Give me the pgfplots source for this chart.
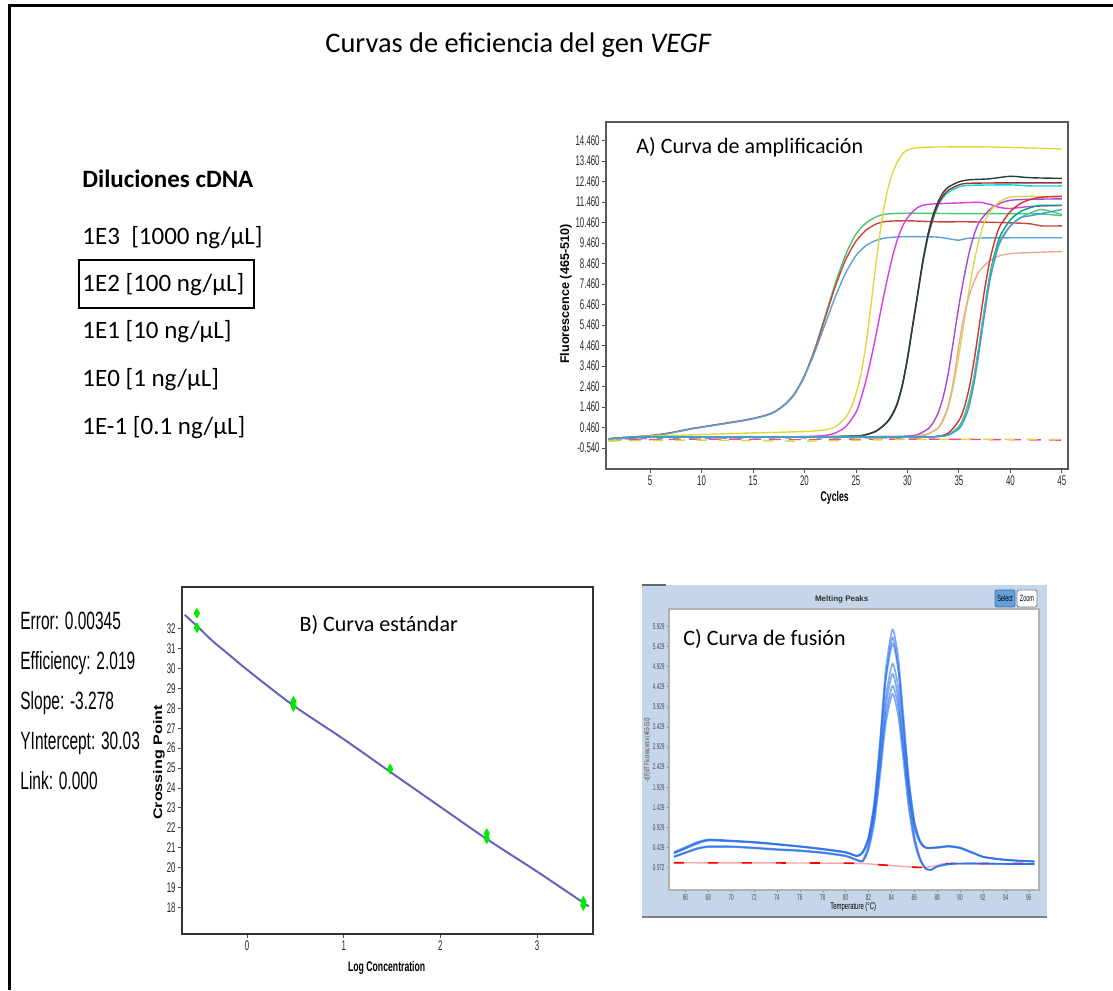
\documentclass[border=0pt]{standalone}
\usepackage{fontspec}
\setmainfont{Carlito}
\newfontfamily\arialn[FakeStretch=0.62]{Liberation Sans}
\newfontfamily\arialt[FakeStretch=0.56]{Liberation Sans}
\newfontfamily\arialw[FakeStretch=1.3]{Liberation Sans}
\newfontfamily\arial{Liberation Sans}
\usepackage{pgfplots}
\pgfplotsset{compat=1.18}
\definecolor{gA}{RGB}{70,200,110}
\definecolor{rA}{RGB}{200,70,60}
\definecolor{bA}{RGB}{90,160,220}
\definecolor{yB}{RGB}{225,215,60}
\definecolor{mB}{RGB}{220,60,220}
\definecolor{dC}{RGB}{40,60,60}
\definecolor{cC}{RGB}{0,215,225}
\definecolor{rC}{RGB}{160,50,50}
\definecolor{pD}{RGB}{170,70,210}
\definecolor{yD}{RGB}{215,215,80}
\definecolor{sD}{RGB}{240,170,140}
\definecolor{rE}{RGB}{210,50,50}
\definecolor{tE}{RGB}{0,160,130}
\definecolor{gE}{RGB}{80,200,120}
\definecolor{bE}{RGB}{70,150,225}
\definecolor{negp}{RGB}{235,80,130}
\definecolor{mgreen}{RGB}{0,235,0}
\definecolor{stdline}{RGB}{100,100,190}
\definecolor{panelblue}{RGB}{197,214,234}
\definecolor{meltblue}{RGB}{40,110,235}
\definecolor{selblue}{RGB}{100,160,220}
\begin{document}
\begin{tikzpicture}
\path[use as bounding box] (0,0) rectangle (556.5pt,495pt);
\draw[line width=1.5pt] (4.5pt,0) -- (4.5pt,492pt) -- (556.5pt,492pt);
% title
\node[anchor=base, inner sep=0] at (259.25pt,468.5pt) {\fontsize{14.2}{17}\selectfont Curvas de eficiencia del gen \textit{VEGF}};
% dilutions
\node[anchor=base west, inner sep=0] at (41pt,401pt) {\fontsize{12.5}{15}\selectfont\bfseries Diluciones cDNA};
\node[anchor=base west, inner sep=0] at (41pt,372.5pt) {\fontsize{12.5}{15}\selectfont 1E3\ \ [1000 ng/µL]};
\node[anchor=base west, inner sep=0] at (41pt,349pt) {\fontsize{12.5}{15}\selectfont 1E2 [100 ng/µL]};
\draw[line width=1pt] (39.5pt,341pt) rectangle (127pt,365pt);
\node[anchor=base west, inner sep=0] at (41pt,325.5pt) {\fontsize{12.5}{15}\selectfont 1E1 [10 ng/µL]};
\node[anchor=base west, inner sep=0] at (41pt,301.5pt) {\fontsize{12.5}{15}\selectfont 1E0 [1 ng/µL]};
\node[anchor=base west, inner sep=0] at (41pt,277.5pt) {\fontsize{12.5}{15}\selectfont 1E-1 [0.1 ng/µL]};
% stats
\node[anchor=base west, inner sep=0] at (10pt,180pt) {\arialn\fontsize{12.5}{14}\selectfont Error: 0.00345};
\node[anchor=base west, inner sep=0] at (10pt,160pt) {\arialn\fontsize{12.5}{14}\selectfont Efficiency: 2.019};
\node[anchor=base west, inner sep=0] at (10pt,140pt) {\arialn\fontsize{12.5}{14}\selectfont Slope: -3.278};
\node[anchor=base west, inner sep=0] at (10pt,120pt) {\arialn\fontsize{12.5}{14}\selectfont YIntercept: 30.03};
\node[anchor=base west, inner sep=0] at (10pt,100pt) {\arialn\fontsize{12.5}{14}\selectfont Link: 0.000};

% ---------------- Panel A
\begin{axis}[at={(303pt,260.5pt)}, anchor=south west, scale only axis,
  width=231pt, height=173.5pt,
  xmin=0.72, xmax=45.6, ymin=-1.56, ymax=15.37,
  axis line style={draw=gray!70!black, line width=1pt},
  tick align=outside, tick pos=left, major tick length=2pt,
  tick style={gray!60!black, thin},
  xtick={5,10,...,45},
  ytick={-0.54,0.46,1.46,2.46,3.46,4.46,5.46,6.46,7.46,8.46,9.46,10.46,11.46,12.46,13.46,14.46},
  yticklabels={-0.540,0.460,1.460,2.460,3.460,4.460,5.460,6.460,7.460,8.460,9.460,10.460,11.460,12.460,13.460,14.460},
  /pgf/number format/assume math mode=true,
  ticklabel style={font=\arialt\fontsize{7}{8}\selectfont, text=black!85, inner sep=1pt},
  xlabel={Cycles}, ylabel={Fluorescence (465-510)},
  xlabel style={font=\arialn\bfseries\fontsize{7}{8}\selectfont, at={(axis description cs:0.495,-0.0836)}, anchor=center},
  ylabel style={font=\arial\bfseries\fontsize{6.3}{8}\selectfont, at={(axis description cs:-0.087,0.504)}, anchor=center},
  every axis plot/.append style={line width=0.7pt, smooth, tension=0.45},
]
\addplot[negp, dashed, dash pattern=on 6pt off 4pt] coordinates {(1,-0.15)(10,-0.1)(20,-0.12)(30,-0.1)(45,-0.15)};
\addplot[yB, dashed, dash pattern=on 5pt off 6pt] coordinates {(1,-0.2)(10,-0.15)(20,-0.2)(30,-0.12)(45,-0.12)};
\addplot[bA, dashed, dash pattern=on 3pt off 5pt] coordinates {(1,-0.1)(15,-0.05)(30,-0.05)};
% group 1
\addplot[gA] coordinates {(1,-0.15)(2,-0.08)(3,-0.02)(4,0.02)(5,0.06)(6,0.12)(7,0.2)(8,0.3)(9,0.4)(10,0.48)(11,0.56)(12,0.64)(13,0.72)(14,0.8)(15,0.9)(16,1.02)(17,1.2)(18,1.55)(19,2.1)(20,3.0)(21,4.3)(22,5.9)(23,7.5)(24,8.9)(25,9.9)(26,10.45)(27,10.75)(28,10.88)(30,10.92)(35,10.9)(40,10.9)(43,10.88)(45,10.8)};
\addplot[rA] coordinates {(1,-0.12)(2,-0.06)(3,-0.01)(4,0.03)(5,0.07)(6,0.13)(7,0.21)(8,0.31)(9,0.41)(10,0.49)(11,0.57)(12,0.65)(13,0.73)(14,0.81)(15,0.91)(16,1.03)(17,1.21)(18,1.55)(19,2.08)(20,2.98)(21,4.25)(22,5.8)(23,7.35)(24,8.65)(25,9.55)(26,10.1)(27,10.4)(28,10.52)(30,10.55)(33,10.5)(36,10.5)(40,10.45)(42,10.4)(43,10.3)(45,10.3)};
\addplot[bA] coordinates {(1,-0.18)(2,-0.1)(3,-0.03)(4,0.01)(5,0.05)(6,0.11)(7,0.19)(8,0.29)(9,0.39)(10,0.47)(11,0.55)(12,0.63)(13,0.71)(14,0.79)(15,0.89)(16,1.01)(17,1.19)(18,1.53)(19,2.05)(20,2.95)(21,4.15)(22,5.5)(23,6.85)(24,8.0)(25,8.85)(26,9.35)(27,9.6)(28,9.72)(30,9.78)(33,9.75)(35,9.6)(36,9.7)(40,9.72)(45,9.72)};
% group 2
\addplot[yB] coordinates {(1,-0.2)(3,-0.02)(5,0.04)(10,0.12)(15,0.2)(20,0.27)(22,0.35)(23,0.5)(24,0.95)(24.5,1.4)(25,2.1)(25.5,3.1)(26,4.6)(26.5,6.6)(27,8.7)(27.5,10.5)(28,11.9)(28.5,12.8)(29,13.4)(29.5,13.8)(30,14.0)(31,14.12)(33,14.15)(38,14.15)(42,14.1)(45,14.05)};
\addplot[mB] coordinates {(1,-0.1)(5,0.0)(10,0.0)(15,0.0)(20,0.02)(22,0.08)(23,0.2)(24,0.5)(25,1.2)(25.5,1.9)(26,2.8)(26.5,3.9)(27,5.1)(27.5,6.4)(28,7.6)(28.5,8.7)(29,9.6)(29.5,10.25)(30,10.7)(31,11.2)(32,11.35)(35,11.42)(37,11.45)(38,11.35)(39,11.2)(40,11.15)(42,11.25)(45,11.3)};
% group 3
\addplot[cC] coordinates {(1,-0.12)(5,0.0)(20,0.0)(25,0.05)(26,0.12)(27,0.3)(28,0.72)(28.5,1.1)(29,1.65)(29.5,2.55)(30,3.85)(30.5,5.4)(31,6.95)(31.5,8.5)(32,9.75)(32.5,10.65)(33,11.3)(33.5,11.7)(34,11.95)(35,12.2)(36,12.28)(40,12.3)(42,12.25)(45,12.25)};
\addplot[rC] coordinates {(1,-0.1)(5,0.0)(20,0.0)(25,0.05)(26,0.12)(27,0.3)(28,0.71)(28.5,1.08)(29,1.62)(29.5,2.52)(30,3.82)(30.5,5.4)(31,6.97)(31.5,8.55)(32,9.8)(32.5,10.7)(33,11.35)(33.5,11.8)(34,12.05)(35,12.3)(36,12.38)(40,12.4)(45,12.4)};
\addplot[dC] coordinates {(1,-0.1)(5,0.0)(10,0.0)(20,0.0)(25,0.05)(26,0.12)(27,0.3)(28,0.7)(28.5,1.05)(29,1.6)(29.5,2.5)(30,3.8)(30.5,5.4)(31,7.0)(31.5,8.6)(32,9.9)(32.5,10.85)(33,11.5)(33.5,11.95)(34,12.2)(35,12.45)(36,12.55)(38,12.6)(40,12.72)(42,12.65)(45,12.62)};
% group 4
\addplot[pD] coordinates {(1,-0.12)(5,0.0)(20,0.0)(28,0.02)(30,0.05)(31,0.12)(32,0.4)(32.5,0.7)(33,1.2)(33.5,2.0)(34,3.2)(34.5,4.8)(35,6.4)(35.5,7.8)(36,9.0)(36.5,9.9)(37,10.5)(38,11.1)(39,11.4)(40,11.55)(42,11.6)(45,11.62)};
\addplot[yD] coordinates {(1,-0.18)(5,0.0)(30,0.02)(31,0.05)(32,0.15)(33,0.45)(33.5,0.85)(34,1.5)(34.5,2.6)(35,4.0)(35.5,5.6)(36,7.2)(36.5,8.6)(37,9.7)(37.5,10.5)(38,11.0)(39,11.5)(40,11.7)(42,11.75)(45,11.72)};
\addplot[sD] coordinates {(1,-0.1)(5,0.0)(30,0.02)(31,0.06)(32,0.15)(33,0.45)(33.5,0.9)(34,1.6)(34.5,2.8)(35,4.5)(35.5,5.9)(36,6.9)(36.5,7.6)(37,8.1)(38,8.6)(39,8.85)(40,8.95)(42,9.0)(45,9.05)};
% group 5
\addplot[rE] coordinates {(1,-0.1)(5,0.0)(30,0.0)(33,0.05)(34,0.2)(35,0.8)(35.5,1.4)(36,2.4)(36.5,3.8)(37,5.5)(37.5,7.2)(38,8.6)(38.5,9.6)(39,10.3)(40,11.0)(41,11.4)(42,11.6)(43,11.7)(45,11.75)};
\addplot[tE] coordinates {(1,-0.1)(5,0.0)(30,0.0)(33,0.03)(34,0.12)(35,0.5)(35.5,1.0)(36,1.8)(36.5,3.0)(37,4.6)(37.5,6.3)(38,7.9)(38.5,9.0)(39,9.8)(40,10.6)(41,11.0)(42,11.2)(43,11.3)(45,11.3)};
\addplot[gE] coordinates {(1,-0.1)(5,0.0)(30,0.0)(33,0.03)(34,0.12)(35,0.5)(35.5,1.0)(36,1.8)(36.5,3.0)(37,4.6)(37.5,6.3)(38,7.8)(38.5,8.9)(39,9.6)(40,10.3)(41,10.7)(42,10.95)(43,11.1)(44,11.0)(45,10.85)};
\addplot[bE] coordinates {(1,-0.1)(5,0.0)(30,0.0)(33,0.03)(34,0.1)(35,0.4)(35.5,0.8)(36,1.5)(36.5,2.7)(37,4.3)(37.5,6.0)(38,7.6)(38.5,8.7)(39,9.5)(40,10.3)(41,10.7)(42,10.8)(43,10.9)(44,11.0)(45,11.1)};
\node[anchor=west, inner sep=0] at (axis description cs:0.065,0.928) {\fontsize{11}{13}\selectfont A) Curva de amplificación};
\end{axis}

% ---------------- Panel B
\begin{axis}[at={(91pt,28pt)}, anchor=south west, scale only axis,
  width=205.5pt, height=173.5pt,
  xmin=-0.674, xmax=3.58, ymin=16.66, ymax=34.1,
  axis line style={draw=gray!40!black, line width=1pt},
  tick align=outside, tick pos=left, major tick length=2pt,
  tick style={gray!60!black, thin},
  xtick={0,1,2,3}, ytick={18,19,...,32},
  /pgf/number format/assume math mode=true,
  ticklabel style={font=\arialt\fontsize{7}{8}\selectfont, text=black!85, inner sep=1pt},
  xlabel={Log Concentration}, ylabel={Crossing Point},
  xlabel style={font=\arialn\bfseries\fontsize{7}{8}\selectfont, at={(axis description cs:0.498,-0.098)}, anchor=center},
  ylabel style={font=\arialw\bfseries\fontsize{6.2}{8}\selectfont, at={(axis description cs:-0.056,0.494)}, anchor=center},
]
\addplot[stdline, line width=1pt, smooth] coordinates {(-0.646,32.70)(-0.5,32.05)(-0.35,31.35)(-0.2,30.75)(0,29.94)(0.477,28.15)(1,26.45)(1.469,24.85)(2,23.05)(2.475,21.45)(3,19.8)(3.536,18.05)};
\addplot[only marks, mark=diamond*, mark size=2.4pt, mark options={fill=mgreen, draw=mgreen, xscale=0.75}] coordinates {(-0.52,32.78)(-0.52,32.05)(0.48,28.1)(0.48,28.35)(1.48,24.95)(2.48,21.45)(2.48,21.7)(3.48,18.1)(3.48,18.3)};
\node[anchor=west, inner sep=0] at (axis description cs:0.285,0.89) {\fontsize{11}{13}\selectfont B) Curva estándar};
\end{axis}

% ---------------- Panel C
\fill[panelblue] (321pt,36.5pt) rectangle (523.5pt,202.5pt);
\draw[gray, line width=1pt] (321pt,36.5pt) -- (523.5pt,36.5pt);
\draw[gray!80!black, line width=1pt] (321pt,202.5pt) -- (333pt,202.5pt);
\node[font=\arial\bfseries\fontsize{4}{5}\selectfont, text=black!80] at (420.85pt,195.35pt) {Melting Peaks};
\node[draw=selblue!70!black, fill=selblue, rounded corners=1pt, minimum width=10pt, minimum height=8.5pt, inner sep=0, font=\arialn\fontsize{4.5}{5}\selectfont] at (502.5pt,195.75pt) {Select};
\node[draw=gray, fill=white, rounded corners=1pt, minimum width=10pt, minimum height=8.5pt, inner sep=0, font=\arialn\fontsize{4.5}{5}\selectfont] at (513.5pt,195.75pt) {Zoom};
\begin{axis}[at={(334.5pt,50pt)}, anchor=south west, scale only axis,
  width=185pt, height=140.5pt,
  xmin=64.57, xmax=96.9, ymin=-0.627, ymax=6.36,
  axis background/.style={fill=white},
  axis line style={draw=gray!60, line width=0.6pt},
  tick align=outside, tick pos=left, major tick length=1.2pt,
  tick style={gray, very thin},
  xtick={66,68,...,96},
  ytick={-0.071,0.429,0.929,1.429,1.929,2.429,2.929,3.429,3.929,4.429,4.929,5.429,5.929},
  yticklabels={0.072,0.429,0.929,1.429,1.929,2.429,2.929,3.429,3.929,4.429,4.929,5.429,5.929},
  /pgf/number format/assume math mode=true,
  ticklabel style={font=\arialt\fontsize{4.2}{5}\selectfont, text=black!70, inner sep=0.8pt},
  xlabel={Temperature (°C)}, ylabel={-d(F)/dT Fluorescence (465-510)},
  xlabel style={font=\arialn\fontsize{4.8}{5}\selectfont, at={(axis description cs:0.498,-0.059)}, anchor=center},
  ylabel style={font=\arialn\fontsize{3.6}{4}\selectfont, text=black!70, at={(axis description cs:-0.058,0.498)}, anchor=center},
  every axis plot/.append style={smooth, tension=0.4},
]
\addplot[red!35, line width=0.7pt] coordinates {(65,0.05)(80,0.04)(83,0.0)(86,-0.06)(87,-0.06)(88,-0.02)(89,0.03)(96.5,0.03)};
\addplot[red, dashed, dash pattern=on 5pt off 12pt, line width=0.8pt] coordinates {(65,0.05)(80,0.04)(83,0.0)(86,-0.06)(87,-0.06)(88,-0.02)(89,0.03)(96.5,0.03)};
\addplot[meltblue, opacity=0.6, line width=0.8pt] coordinates {(65,0.3)(66,0.42)(67,0.55)(68,0.62)(69,0.62)(70,0.6)(72,0.57)(74,0.52)(76,0.46)(78,0.4)(80,0.32)(81,0.22)(81.5,0.33)(82,0.70)(82.5,1.57)(83,3.09)(83.5,4.83)(84.1,5.85)(84.6,5.15)(85,3.88)(85.5,2.23)(86,1.11)(86.5,0.61)(87,0.43)(88,0.43)(89,0.46)(90,0.42)(91,0.32)(92,0.2)(93,0.15)(94,0.12)(95,0.1)(96.5,0.08)};
\addplot[meltblue, opacity=0.6, line width=0.8pt] coordinates {(65,0.29)(66,0.41)(67,0.53)(68,0.61)(70,0.59)(72,0.56)(74,0.51)(76,0.45)(78,0.39)(80,0.31)(81,0.22)(81.5,0.32)(82,0.67)(82.5,1.49)(83,2.91)(83.5,4.54)(84.1,5.5)(84.6,4.84)(85,3.66)(85.5,2.11)(86,1.06)(86.5,0.59)(87,0.43)(88,0.43)(89,0.46)(90,0.42)(91,0.31)(92,0.2)(93,0.15)(94,0.12)(95,0.1)(96.5,0.08)};
\addplot[meltblue, opacity=0.6, line width=0.8pt] coordinates {(65,0.28)(66,0.4)(67,0.52)(68,0.6)(70,0.58)(72,0.55)(74,0.5)(76,0.45)(78,0.38)(80,0.3)(81,0.22)(81.5,0.31)(82,0.62)(82.5,1.37)(83,2.66)(83.5,4.13)(84.1,5.0)(84.6,4.41)(85,3.34)(85.5,1.94)(86,0.99)(86.5,0.57)(87,0.42)(88,0.42)(89,0.45)(90,0.41)(91,0.3)(92,0.2)(93,0.15)(94,0.12)(95,0.1)(96.5,0.08)};
\addplot[meltblue, opacity=0.6, line width=0.8pt] coordinates {(65,0.32)(66,0.44)(67,0.56)(68,0.63)(70,0.6)(72,0.56)(74,0.51)(76,0.46)(78,0.39)(80,0.31)(81,0.21)(81.5,0.30)(82,0.58)(82.5,1.24)(83,2.38)(83.5,3.68)(84.1,4.45)(84.6,3.93)(85,2.99)(85.5,1.75)(86,0.92)(86.5,0.55)(87,0.42)(88,0.44)(89,0.47)(90,0.43)(91,0.31)(92,0.2)(93,0.16)(94,0.13)(95,0.11)(96.5,0.09)};
\addplot[meltblue, opacity=0.6, line width=0.8pt] coordinates {(65,0.2)(66,0.3)(67,0.4)(68,0.45)(70,0.45)(72,0.42)(74,0.38)(76,0.35)(78,0.3)(80,0.22)(81,0.12)(81.5,0.11)(82,0.49)(82.5,1.36)(83,2.88)(83.5,4.63)(84.1,5.65)(84.6,4.92)(85,3.62)(85.5,1.92)(86,0.76)(86.5,0.18)(87,-0.09)(87.5,-0.12)(88,-0.04)(89,0.02)(90,0.03)(92,0.03)(94,0.02)(96.5,0.02)};
\addplot[meltblue, opacity=0.6, line width=0.8pt] coordinates {(65,0.21)(66,0.31)(67,0.41)(68,0.46)(70,0.46)(72,0.43)(74,0.39)(76,0.36)(78,0.31)(80,0.23)(81,0.12)(81.5,0.09)(82,0.41)(82.5,1.14)(83,2.42)(83.5,3.9)(84.1,4.75)(84.6,4.13)(85,3.04)(85.5,1.62)(86,0.64)(86.5,0.14)(87,-0.1)(87.5,-0.13)(88,-0.05)(89,0.01)(90,0.03)(92,0.03)(94,0.02)(96.5,0.02)};
\addplot[meltblue, opacity=0.6, line width=0.8pt] coordinates {(65,0.19)(66,0.29)(67,0.39)(68,0.44)(70,0.44)(72,0.41)(74,0.37)(76,0.34)(78,0.29)(80,0.21)(81,0.11)(81.5,0.08)(82,0.37)(82.5,1.02)(83,2.17)(83.5,3.49)(84.1,4.25)(84.6,3.70)(85,2.72)(85.5,1.45)(86,0.57)(86.5,0.12)(87,-0.1)(87.5,-0.12)(88,-0.04)(89,0.02)(90,0.03)(92,0.03)(94,0.02)(96.5,0.02)};
\node[anchor=west, inner sep=0] at (axis description cs:0.038,0.893) {\fontsize{11}{13}\selectfont C) Curva de fusión};
\end{axis}
\end{tikzpicture}
\end{document}
